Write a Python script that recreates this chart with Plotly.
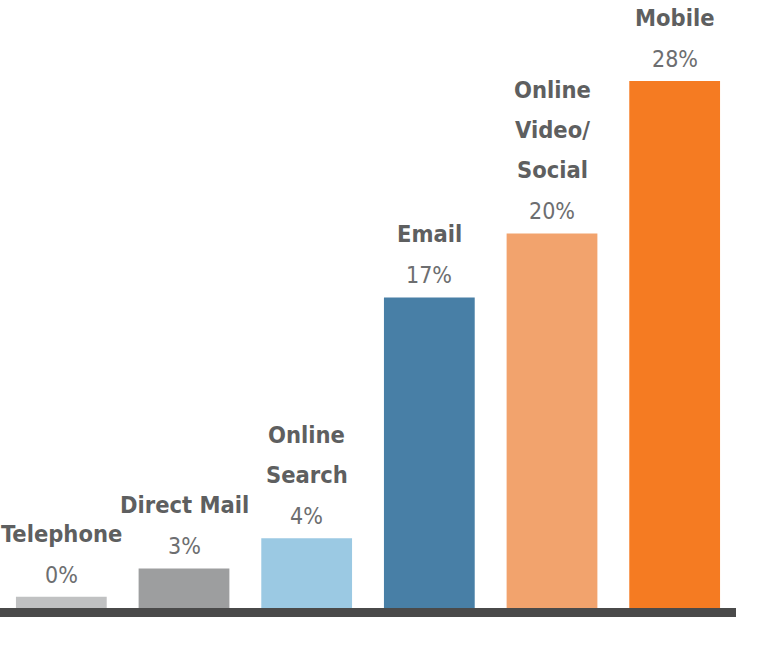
import plotly.graph_objects as go

categories = ["Telephone", "Direct Mail", "Online Search", "Email", "Online Video/Social", "Mobile"]
name_lines = [["Telephone"], ["Direct Mail"], ["Online", "Search"], ["Email"], ["Online", "Video/", "Social"], ["Mobile"]]
values = [0.6, 2.1, 3.7, 16.5, 19.9, 28.0]
pct_labels = ["0%", "3%", "4%", "17%", "20%", "28%"]
colors = ["#c0c1c2", "#9d9e9f", "#9bc9e3", "#487fa6", "#f2a36d", "#f57b22"]

BOLD_FONT = "Liberation Sans Narrow, DejaVu Sans Condensed, Arial Narrow, sans-serif"

fig = go.Figure()
fig.add_trace(go.Bar(
    x=categories, y=values,
    marker=dict(color=colors, line=dict(width=0)),
    hoverinfo="skip",
))

annotations = []
for cat, val, pct, lines in zip(categories, values, pct_labels, name_lines):
    annotations.append(dict(
        x=cat, y=val, xref="x", yref="y", text=pct, showarrow=False,
        yanchor="bottom", xanchor="center", yshift=7,
        font=dict(family=BOLD_FONT, size=23, color="#6d6e70"),
    ))
    for k, line in enumerate(reversed(lines)):
        annotations.append(dict(
            x=cat, y=val, xref="x", yref="y", text="<b>" + line + "</b>", showarrow=False,
            yanchor="bottom", xanchor="center", yshift=7 + 40 * (k + 1),
            font=dict(family=BOLD_FONT, size=23.5, color="#5e5f60"),
        ))

fig.update_layout(
    width=757, height=645,
    margin=dict(l=0, r=21, t=0, b=37),
    paper_bgcolor="white", plot_bgcolor="white",
    showlegend=False,
    bargap=0.26,
    annotations=annotations,
    xaxis=dict(range=[-0.5, 5.5], showticklabels=False, ticks="", showgrid=False, zeroline=False,
               showline=True, linecolor="#4a4a4a", linewidth=9),
    yaxis=dict(range=[0, 32.3], visible=False, showgrid=False, zeroline=False),
)

fig.write_html("out.html", config={"displayModeBar": False},
               post_script="document.body.style.margin='0';")
